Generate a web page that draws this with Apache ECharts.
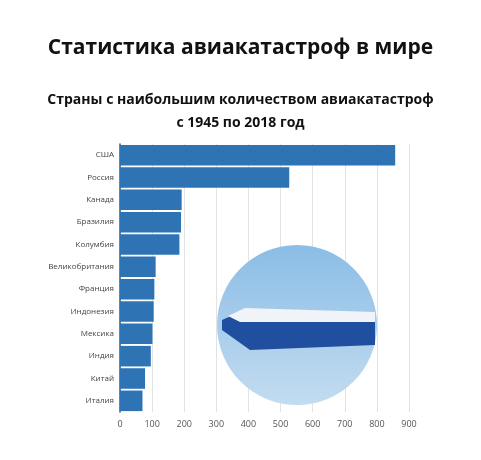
<!DOCTYPE html>
<html><head><meta charset="utf-8">
<script src="https://cdn.jsdelivr.net/npm/echarts@6/dist/echarts.min.js"></script>
<style>html,body{margin:0;padding:0;background:#fff}#c{width:481px;height:460px}</style>
</head><body><div id="c"></div>
<script>
const categories = ['США','Россия','Канада','Бразилия','Колумбия','Великобритания','Франция','Индонезия','Мексика','Индия','Китай','Италия'];
const values = [857,527,192,190,185,111,107,105,101,96,78,70];
const xTicks = [0,100,200,300,400,500,600,700,800,900];
const chart = echarts.init(document.getElementById('c'));
chart.setOption({
  backgroundColor:'#fff',
  title:[
    {text:'Статистика авиакатастроф в мире',left:'center',top:33,textStyle:{fontFamily:'Open Sans',fontSize:21,fontWeight:'bold',color:'#111'}},
    {text:'Страны с наибольшим количеством авиакатастроф',left:'center',top:88,textStyle:{fontFamily:'Open Sans',fontSize:14,fontWeight:'bold',color:'#111'}},
    {text:'с 1945 по 2018 год',left:'center',top:111,textStyle:{fontFamily:'Open Sans',fontSize:14,fontWeight:'bold',color:'#111'}}
  ],
  grid:{left:120,right:72,top:144,bottom:48,containLabel:false},
  xAxis:{type:'value',min:0,max:900,interval:100,
    axisLabel:{fontSize:9,color:'#555',fontFamily:'Open Sans',formatter:v=>xTicks.includes(v)?String(v):''},
    splitLine:{show:true,lineStyle:{color:'#e3e3e3'}},axisLine:{show:false},axisTick:{show:false}},
  yAxis:{type:'category',inverse:true,data:categories,
    axisLabel:{fontSize:8,color:'#444',fontFamily:'Open Sans',margin:6},
    axisLine:{show:true,lineStyle:{color:'#555',width:1.5}},axisTick:{show:false}},
  series:[{type:'bar',data:values,barCategoryGap:'8%',itemStyle:{color:'#2e74b5'},z:1}],
  graphic:[{type:'circle',shape:{cx:297,cy:325,r:80},z:10,
    style:{fill:new echarts.graphic.LinearGradient(0,0,0,1,[{offset:0,color:'#8bbde6'},{offset:1,color:'#c3dcf0'}])}},
    {type:'polygon',z:11,shape:{points:[[222,320],[240,312],[375,318],[375,345],[250,350],[222,330]]},style:{fill:'#1f4f9e'}},
    {type:'polygon',z:12,shape:{points:[[228,316],[245,308],[375,312],[375,322],[240,322]]},style:{fill:'#f0f3f7'}}
  ]
});
</script></body></html>
